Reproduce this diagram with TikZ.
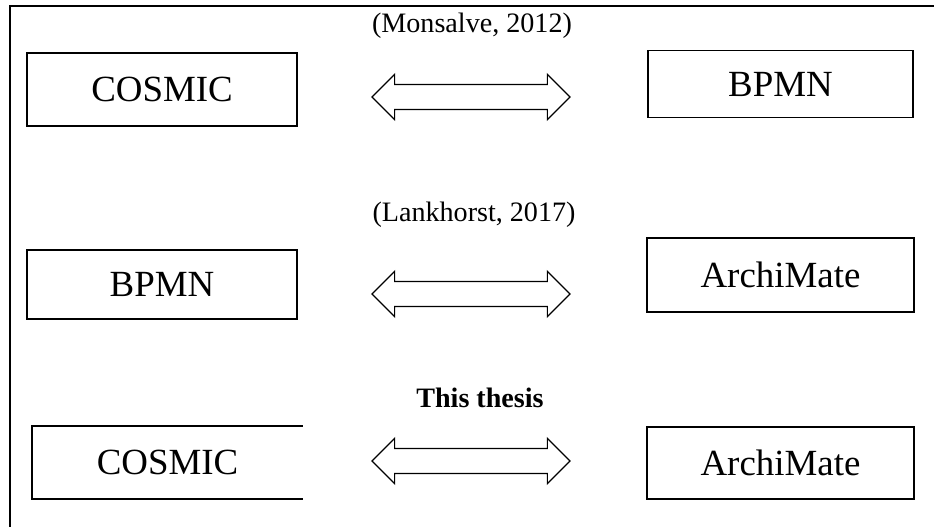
\documentclass[tikz,border=0pt]{standalone}
\usepackage{fontspec}
\setmainfont{Liberation Serif}
\usepackage{tikz}
\usetikzlibrary{shapes.arrows}

\begin{document}
\begin{tikzpicture}[
        x=0.02cm, y=-0.02cm,
        box/.style={rectangle, draw, line width=0.9pt, minimum width=5.36cm, minimum height=1.42cm, align=center, font=\fontsize{21}{25}\selectfont},
        openbox/.style={box, draw=none},
        link/.style={double arrow, draw, line width=0.7pt, minimum height=3.96cm, minimum width=0.88cm, double arrow head extend=0.2cm, inner xsep=0pt, inner ysep=0.24cm},
        cite/.style={font=\fontsize{16}{19}\selectfont}
    ]
        \useasboundingbox (0,0) rectangle (934,527);

        % Frame
        \draw[line width=1.3pt] (934,6) -- (10,6) -- (10,527);

        % Row 1
        \node[box, minimum width=5.4cm, minimum height=1.46cm] (cosmicA) at (162,89.5) {COSMIC};
        \node[box, minimum width=5.3cm, minimum height=1.34cm] (bpmnA) at (780.5,84) {BPMN};
        \node[link] (linkA) at (471,97) {};
        \node[cite] (citeA) at (472,26) {(Monsalve, 2012)};

        % Row 2
        \node[box, minimum width=5.4cm, minimum height=1.38cm] (bpmnB) at (162,284.5) {BPMN};
        \node[box, minimum width=5.34cm, minimum height=1.48cm] (archiB) at (780.5,275) {ArchiMate};
        \node[link] (linkB) at (471,294) {};
        \node[cite] (citeB) at (474,215) {(Lankhorst, 2017)};

        % Row 3
        \node[openbox, minimum width=5.38cm] (cosmicC) at (167.5,462.5) {COSMIC};
        \draw[line width=0.9pt] (cosmicC.north east) -- (cosmicC.north west) -- (cosmicC.south west) -- (cosmicC.south east);
        \node[box, minimum width=5.34cm, minimum height=1.44cm] (archiC) at (780.5,463) {ArchiMate};
        \node[link] (linkC) at (471,461) {};
        \node[cite, font=\fontsize{16}{19}\selectfont\bfseries] (citeC) at (480,398) {This thesis};
    \end{tikzpicture}
\end{document}
